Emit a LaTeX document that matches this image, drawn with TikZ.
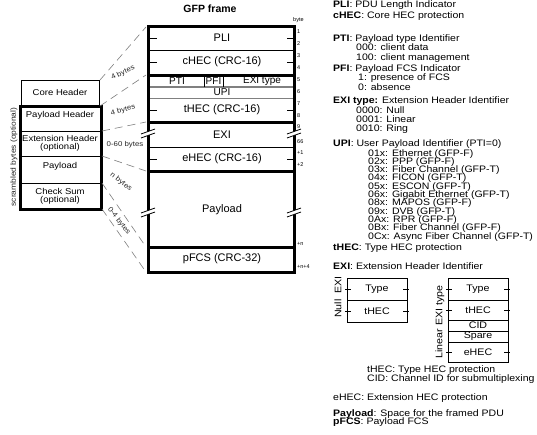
\documentclass[tikz,border=0pt]{standalone}
\usepackage{fontspec}
\setmainfont{Liberation Sans}
\newfontfamily\widesans[FakeStretch=1.12]{Liberation Sans}
\tikzset{
  fld/.style={inner sep=0pt, font=\fontsize{11}{11}\selectfont},
  sfld/.style={inner sep=0pt, font=\fontsize{10}{10}\selectfont},
  lbox/.style={inner sep=0pt, align=center, font=\widesans\fontsize{8.5}{8}\selectfont},
  rtxt/.style={inner sep=0pt, anchor=base west, font=\widesans\fontsize{9.4}{9.4}\selectfont},
  btxt/.style={inner sep=0pt, font=\widesans\fontsize{9.5}{9.5}\selectfont},
  bnum/.style={inner sep=0pt, anchor=west, font=\fontsize{5.5}{5.5}\selectfont},
  blab/.style={inner sep=0pt, font=\widesans\fontsize{7}{7}\selectfont, text=black!85},
  dsh/.style={draw=gray, dash pattern=on 8pt off 5pt, line width=0.6pt},
  thk/.style={line width=3pt},
  thn/.style={line width=0.8pt},
  gln/.style={draw=gray, line width=1.2pt},
  tck/.style={line width=0.7pt},
  brk/.pic={
    \fill[white] (-7,2) -- (7,-3) -- (7,1) -- (-7,6) -- cycle;
    \draw[line width=0.8pt] (-7,2) -- (7,-3) (-7,6) -- (7,1);
  },
}
\begin{document}
\begin{tikzpicture}[x=1pt,y=-1pt]
\useasboundingbox[fill=white] (0,0) rectangle (537,434);

% ---------- left structure ----------
\draw[thn] (21,106) -- (21,80) -- (99,80) -- (99,106);
\node[lbox] (core) at (60,92) {Core Header};
\draw[thn] (20,131) -- (101,131);
\draw[thn] (20,156) -- (101,156);
\draw[thn] (20,183) -- (101,183);
\draw[thk] (20,106) rectangle (101,209);
\node[lbox] (ph) at (60,115) {Payload Header};
\node[lbox] (eh) at (60,143.5) {Extension Header\\(optional)};
\node[lbox] (pl) at (60,166) {Payload};
\node[lbox] (cs) at (60,196) {Check Sum\\(optional)};
\node[blab, font=\widesans\fontsize{7.5}{7.5}\selectfont, rotate=90] (scr) at (14,157) {scrambled bytes (optional)};

% ---------- GFP frame ----------
\node[inner sep=0pt, font=\bfseries\fontsize{10.5}{10.5}\selectfont] (title) at (210,9) {GFP frame};
\draw[thn] (148,50) -- (294,50);
\draw[thn] (148,147) -- (294,147);
\draw[gln] (148,87) -- (294,87);
\draw[gln, line width=0.8pt] (148,98) -- (294,98);
\draw[line width=1pt] (204,75) -- (204,87) (223,75) -- (223,87);
\draw[thk] (148,75) -- (294,75);
\draw[thk] (148,122) -- (294,122);
\draw[thk] (148,171) -- (294,171);
\draw[thk] (148,247) -- (294,247);
\draw[thk, line join=miter] (148,26) rectangle (294,272);
% ticks
\foreach \yy in {38,62,110,159} {
  \draw[tck] (148,\yy) -- (157,\yy);
  \draw[tck] (294,\yy) -- (287,\yy);
}
% breaks
\pic at (148,132) {brk};
\pic at (294,132) {brk};
\pic at (148,211) {brk};
\pic at (294,211) {brk};

\node[fld] (pli) at (222,38) {PLI};
\node[fld] (chec) at (222,62) {cHEC (CRC-16)};
\node[sfld] (pti) at (177,81) {PTI};
\node[sfld] (pfi) at (213.5,81) {PFI};
\node[sfld] (exit) at (262,81) {EXI type};
\node[sfld] (upi) at (222,92.5) {UPI};
\node[fld] (thec) at (222,110) {tHEC (CRC-16)};
\node[fld] (exi) at (222,135) {EXI};
\node[fld] (ehec) at (222,159) {eHEC (CRC-16)};
\node[fld] (pay) at (222,210) {Payload};
\node[fld] (pfcs) at (222,259) {pFCS (CRC-32)};

% byte numbers
\node[bnum] (byte) at (293,20) {byte};
\node[bnum] (b1) at (297,32) {1};
\node[bnum] (b2) at (297,44) {2};
\node[bnum] (b3) at (297,56) {3};
\node[bnum] (b4) at (297,68) {4};
\node[bnum] (b5) at (297,80) {5};
\node[bnum] (b6) at (297,92) {6};
\node[bnum] (b7) at (297,104) {7};
\node[bnum] (b8) at (297,116) {8};
\node[bnum] (b9) at (297,127) {9};
\node[bnum] (b66) at (297,142) {66};
\node[bnum] (bp1) at (297,153) {+1};
\node[bnum] (bp2) at (297,165) {+2};
\node[bnum] (bpn) at (297,244) {+n};
\node[bnum] (bpn4) at (297,267) {+n+4};

% ---------- dashed mapping lines ----------
\coordinate (l1) at (100,80);  \coordinate (f1) at (146,27);
\coordinate (l2) at (100,106); \coordinate (f2) at (146,75);
\coordinate (l3) at (102,131); \coordinate (f3) at (146,122);
\coordinate (l4) at (102,156); \coordinate (f4) at (146,171);
\coordinate (l5) at (102,183); \coordinate (f5) at (146,247);
\coordinate (l6) at (102,209); \coordinate (f6) at (146,272);
\draw[dsh] (l1) -- (f1);
\draw[dsh] (l2) -- (f2);
\draw[dsh] (l3) -- (f3);
\draw[dsh] (l4) -- (f4);
\draw[dsh] (l5) -- (f5);
\draw[dsh] (l6) -- (f6);
\node[blab, rotate=25] (by1) at (123,73) {4 bytes};
\node[blab, rotate=15] (by2) at (123,110) {4 bytes};
\node[blab] (by3) at (125,145) {0-60 bytes};
\node[blab, rotate=-38] (by4) at (121,182) {n bytes};
\node[blab, rotate=-52] (by5) at (119,221) {0-4 bytes};

% ---------- right-hand legend ----------
\node[rtxt] (t1) at (333,7.5) {\textbf{PLI}: PDU Length Indicator};
\node[rtxt] (t2) at (333,18.5) {\textbf{cHEC}: Core HEC protection};
\node[rtxt] (t3) at (333,41.5) {\textbf{PTI}: Payload type Identifier};
\node[rtxt] (t4) at (356,50.5) {000: client data};
\node[rtxt] (t5) at (356,60) {100: client management};
\node[rtxt] (t6) at (333,71.5) {\textbf{PFI}: Payload FCS Indicator};
\node[rtxt] (t7) at (358,80.5) {1: presence of FCS};
\node[rtxt] (t8) at (358,90) {0: absence};
\node[rtxt] (t9) at (333,103.5) {\textbf{EXI type:} Extension Header Identifier};
\node[rtxt] (t10) at (356,113) {0000: Null};
\node[rtxt] (t11) at (356,122) {0001: Linear};
\node[rtxt] (t12) at (356,131) {0010: Ring};
\node[rtxt] (t13) at (333,146.5) {\textbf{UPI}: User Payload Identifier (PTI=0)};
\node[rtxt] (u1) at (368,156) {01x: Ethernet (GFP-F)};
\node[rtxt] (u2) at (368,164.3) {02x: PPP (GFP-F)};
\node[rtxt] (u3) at (368,172.6) {03x: Fiber Channel (GFP-T)};
\node[rtxt] (u4) at (368,180.9) {04x: FICON (GFP-T)};
\node[rtxt] (u5) at (368,189.2) {05x: ESCON (GFP-T)};
\node[rtxt] (u6) at (368,197.5) {06x: Gigabit Ethernet (GFP-T)};
\node[rtxt] (u7) at (368,205.8) {08x: MAPOS (GFP-F)};
\node[rtxt] (u8) at (368,214.1) {09x: DVB (GFP-T)};
\node[rtxt] (u9) at (368,222.4) {0Ax: RPR (GFP-F)};
\node[rtxt] (u10) at (368,230.7) {0Bx: Fiber Channel (GFP-F)};
\node[rtxt] (u11) at (368,239) {0Cx: Async Fiber Channel (GFP-T)};
\node[rtxt] (t14) at (333,250.5) {\textbf{tHEC}: Type HEC protection};
\node[rtxt] (t15) at (333,269.5) {\textbf{EXI}: Extension Header Identifier};

% Null EXI box
\draw[thn] (347,278) rectangle (407,322);
\draw[thn] (347,300) -- (407,300);
\foreach \yy in {289,311} {
  \draw[tck] (345,\yy) -- (351,\yy);
  \draw[tck] (403,\yy) -- (409,\yy);
}
\node[btxt] (nt) at (377,289) {Type};
\node[btxt] (nh) at (377,311) {tHEC};
\node[btxt, rotate=90] (nlab) at (338,297) {Null\ \ EXI};

% Linear EXI box
\draw[thn] (448,278) rectangle (508,362);
\draw[thn] (448,300) -- (508,300);
\draw[thn] (448,320) -- (508,320);
\draw[thn] (448,331) -- (508,331);
\draw[thn] (448,342) -- (508,342);
\foreach \yy in {289,310,352} {
  \draw[tck] (446,\yy) -- (452,\yy);
  \draw[tck] (504,\yy) -- (510,\yy);
}
\node[btxt] (lt) at (478,289) {Type};
\node[btxt] (lh) at (478,310) {tHEC};
\node[btxt] (lc) at (478,325.5) {CID};
\node[btxt] (ls) at (478,336.5) {Spare};
\node[btxt] (le) at (478,352) {eHEC};
\node[btxt, rotate=90] (llab) at (440,322) {Linear EXI type};

\node[rtxt] (n1) at (367,372.5) {tHEC: Type HEC protection};
\node[rtxt] (n2) at (367,381) {CID: Channel ID for submultiplexing};
\node[rtxt] (t16) at (333,400.5) {eHEC: Extension HEC protection};
\node[rtxt] (t17) at (333,416.5) {\textbf{Payload}: Space for the framed PDU};
\node[rtxt] (t18) at (333,424.5) {\textbf{pFCS}: Payload FCS};
\end{tikzpicture}
\end{document}
